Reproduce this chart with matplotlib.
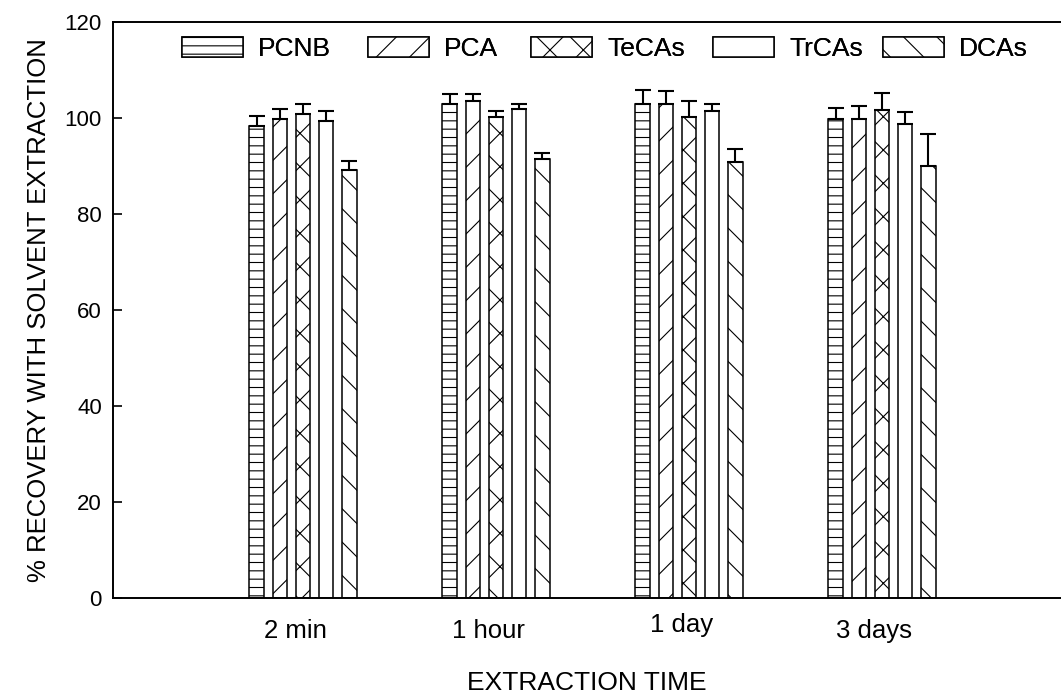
import matplotlib
matplotlib.use("Agg")
import matplotlib.pyplot as plt
import matplotlib.transforms as mtransforms
import numpy as np

plt.rcParams["font.family"] = ["Liberation Sans", "DejaVu Sans"]
plt.rcParams["hatch.linewidth"] = 0.8

# data
times = ["2 min", "1 hour", "1 day", "3 days"]
compounds = ["PCNB", "PCA", "TeCAs", "TrCAs", "DCAs"]
hatches = ["--", "/", "x", "", "\\"]

pcnb = [98.3, 103.0, 103.0, 99.8]
pca = [99.8, 103.5, 103.0, 99.8]
tecas = [100.8, 100.3, 100.3, 101.7]
trcas = [99.3, 101.9, 101.4, 98.8]
dcas = [89.2, 91.5, 90.9, 90.0]

pcnb_err = [2.1, 1.9, 2.8, 2.3]
pca_err = [2.1, 1.6, 2.7, 2.7]
tecas_err = [2.2, 1.2, 3.2, 3.6]
trcas_err = [2.1, 1.1, 1.6, 2.4]
dcas_err = [1.8, 1.3, 2.6, 6.7]

values = [pcnb, pca, tecas, trcas, dcas]
errors = [pcnb_err, pca_err, tecas_err, trcas_err, dcas_err]

fig = plt.figure(figsize=(10.61, 6.94), dpi=100)
ax = fig.add_axes([113 / 1061, 96 / 694, 1 - 113 / 1061, 576 / 694])

x = np.arange(len(times))
step = 0.12
width = 0.075
bars = []
for i, (name, vals, errs, h) in enumerate(zip(compounds, values, errors, hatches)):
    pos = x + (i - 2) * step
    b = ax.bar(pos, vals, width=width, facecolor="white", edgecolor="black",
               linewidth=1.1, hatch=h, label=name, zorder=2)
    bars.append(b)
    ax.errorbar(pos, vals, yerr=[np.zeros(len(errs)), errs], fmt="none",
                ecolor="black", elinewidth=1.5, capsize=6, capthick=1.5, zorder=3)

ax.set_xlim(-0.984, 3.927)
ax.set_ylim(0, 120)
ax.set_yticks([0, 20, 40, 60, 80, 100, 120])
ax.set_xticks(x - 0.04)
ax.set_xticklabels(times)
ax.tick_params(axis="x", length=0, labelsize=18.5, pad=15)
ax.tick_params(axis="y", direction="in", length=6.5, width=1.2, labelsize=16, pad=8)

# the "1 day" label sits a little higher in the original
lbl = ax.get_xticklabels()[2]
lbl.set_transform(lbl.get_transform() + mtransforms.ScaledTranslation(0, 6 / 100, fig.dpi_scale_trans))

for side in ["left", "bottom", "top"]:
    ax.spines[side].set_linewidth(1.4)
ax.spines["right"].set_visible(False)

ax.set_xlabel("EXTRACTION TIME", fontsize=19, labelpad=20)
ax.set_ylabel("% RECOVERY WITH SOLVENT EXTRACTION", fontsize=18.5, labelpad=10)

# one legend entry per slot, placed like the original key
legend_x = [182, 368, 531, 713, 883]
for b, name, lx in zip(bars, compounds, legend_x):
    leg = fig.legend(handles=[b], labels=[name], loc="center left",
                     bbox_to_anchor=(lx / 1061, 1 - 49 / 694), frameon=False,
                     fontsize=19, handlelength=2.31, handleheight=0.76,
                     handletextpad=0.57, borderpad=0, borderaxespad=0)
    fig.add_artist(leg)

fig.savefig("out.png", dpi=100)
